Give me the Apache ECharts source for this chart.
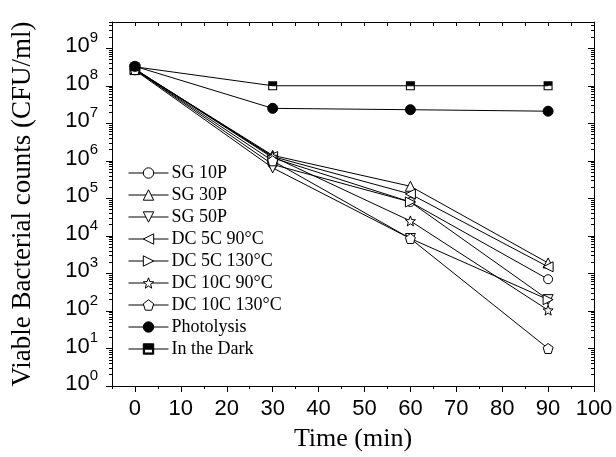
<!DOCTYPE html>
<html>
<head>
<meta charset="utf-8">
<script src="https://cdn.jsdelivr.net/npm/echarts@6/dist/echarts.min.js"></script>
<style>
html,body{margin:0;padding:0;background:#fff;}
#chart{width:616px;height:457px;}
</style>
</head>
<body>
<div id="chart"></div>
<script>
// ---- data ----
const times = [0, 30, 60, 90];
const seriesNames = ['SG 10P', 'SG 30P', 'SG 50P', 'DC 5C 90°C', 'DC 5C 130°C', 'DC 10C 90°C', 'DC 10C 130°C', 'Photolysis', 'In the Dark'];
const sg10P     = [2.7e8, 8.0e5, 8.0e4, 7.0e2];
const sg30P     = [2.7e8, 1.4e6, 2.1e5, 1.9e3];
const sg50P     = [2.6e8, 6.5e5, 8.5e3, 2.0e2];
const dc5c90    = [2.8e8, 1.3e6, 1.3e5, 1.5e3];
const dc5c130   = [2.8e8, 1.2e6, 8.0e4, 2.0e2];
const dc10c90   = [2.7e8, 1.3e6, 2.5e4, 1.05e2];
const dc10c130  = [2.7e8, 1.0e6, 8.5e3, 1.0e1];
const photolysis = [3.3e8, 2.5e7, 2.3e7, 2.1e7];
const inTheDark  = [3.2e8, 1.0e8, 1.0e8, 1.0e8];
const xTickLabels = [0, 10, 20, 30, 40, 50, 60, 70, 80, 90, 100];
const yMin = 1, yMax = 5e9;

// ---- styles ----
const SANS = "'Liberation Sans', Arial, sans-serif";
const SERIF = "'Liberation Serif', 'Times New Roman', serif";
const sym = {
  circle: 'circle',
  up: 'path://M5,0 L10,9 L0,9 Z',
  down: 'path://M0,0 L10,0 L5,9 Z',
  left: 'path://M0,5 L9,0 L9,10 Z',
  right: 'path://M0,0 L9,5 L0,10 Z',
  star: 'path://M0,-1 L0.25,-0.34 L0.951,-0.309 L0.40,0.13 L0.588,0.809 L0,0.42 L-0.588,0.809 L-0.40,0.13 L-0.951,-0.309 L-0.25,-0.34 Z',
  pentagon: 'path://M0,-1 L0.951,-0.309 L0.588,0.809 L-0.588,0.809 L-0.951,-0.309 Z',
  square: 'path://M0,0 L10,0 L10,10 L0,10 Z M1.2,5 L1.2,8.8 L8.8,8.8 L8.8,5 Z'
};
const allData = [sg10P, sg30P, sg50P, dc5c90, dc5c130, dc10c90, dc10c130, photolysis, inTheDark];
const symbols = [sym.circle, sym.up, sym.down, sym.left, sym.right, sym.star, sym.pentagon, 'circle', sym.square];
const sizes = [9, 10, 10, 10, 10, 10, 10, 10, 9];

const series = allData.map((vals, i) => {
  const filled = i >= 7;
  return {
    name: seriesNames[i],
    type: 'line',
    data: times.map((t, k) => [t, vals[k]]),
    symbol: symbols[i],
    symbolSize: sizes[i],
    showAllSymbol: true,
    lineStyle: { color: '#000', width: 1 },
    itemStyle: filled
      ? { color: '#000', borderColor: '#000', borderWidth: i === 8 ? 0 : 1 }
      : { color: '#fff', borderColor: '#000', borderWidth: 1 },
    emphasis: { disabled: true },
    z: 2 + i
  };
});

const minorLogs = [];
for (let n = 0; n <= 9; n++) {
  for (let k = 2; k <= 9; k++) {
    const v = Math.log10(k) + n;
    if (v <= Math.log10(yMax) + 1e-9) minorLogs.push(v);
  }
}
const yLogMax = Math.log10(yMax);

function yLabel(v) {
  const l = Math.log10(v);
  const e = Math.round(l);
  if (Math.abs(l - e) > 1e-6) return '';
  return '{b|10}{s|' + e + '}';
}

const chart = echarts.init(document.getElementById('chart'), null, { renderer: 'canvas' });
chart.setOption({
  animation: false,
  backgroundColor: '#fff',
  grid: { left: 112, top: 22, right: 22, bottom: 67, containLabel: false },
  legend: {
    orient: 'vertical',
    left: 128,
    top: 164,
    itemWidth: 40,
    itemHeight: 13,
    itemGap: 4,
    padding: 0,
    data: seriesNames,
    lineStyle: { width: 1, color: '#000' },
    itemStyle: { borderWidth: 1 },
    textStyle: { fontFamily: SERIF, fontSize: 18, lineHeight: 18, color: '#000', padding: [0, 0, 0, -2] }
  },
  xAxis: [
    {
      type: 'value', position: 'bottom', min: -5, max: 100, interval: 5,
      axisLine: { show: true, onZero: false, lineStyle: { color: '#000', width: 1 } },
      axisTick: { show: true, inside: false, length: 3, lineStyle: { color: '#000' } },
      axisLabel: { customValues: xTickLabels, fontFamily: SANS, fontSize: 22, color: '#000', margin: 12 },
      splitLine: { show: false },
      name: 'Time (min)', nameLocation: 'middle', nameGap: 40,
      nameTextStyle: { fontFamily: SERIF, fontSize: 26, color: '#000' }
    },
    {
      type: 'value', position: 'bottom', min: -5, max: 100, interval: 5,
      axisLine: { show: false, onZero: false },
      axisTick: { show: true, inside: false, length: 6, customValues: xTickLabels, lineStyle: { color: '#000' } },
      axisLabel: { show: false },
      splitLine: { show: false }
    },
    {
      type: 'value', position: 'top', min: -5, max: 100, interval: 5,
      axisLine: { show: true, onZero: false, lineStyle: { color: '#000', width: 1 } },
      axisTick: { show: true, inside: true, length: 4, lineStyle: { color: '#000' } },
      axisLabel: { show: false },
      splitLine: { show: false }
    }
  ],
  yAxis: [
    {
      type: 'log', logBase: 10, position: 'left', min: yMin, max: yMax, splitNumber: 10,
      axisLine: { show: true, onZero: false, lineStyle: { color: '#000', width: 1 } },
      axisTick: { show: true, inside: false, length: 6, lineStyle: { color: '#000' } },
      axisLabel: {
        formatter: yLabel, showMaxLabel: false, margin: 14, color: '#000',
        padding: [0, 0, 4, 0],
        rich: {
          b: { fontFamily: SANS, fontSize: 22, lineHeight: 22, color: '#000', verticalAlign: 'bottom' },
          s: { fontFamily: SANS, fontSize: 15, lineHeight: 15, color: '#000', verticalAlign: 'bottom', padding: [0, 0, 12, 0] }
        }
      },
      splitLine: { show: false },
      name: 'Viable Bacterial counts (CFU/ml)', nameLocation: 'middle', nameGap: 76,
      nameTextStyle: { fontFamily: SERIF, fontSize: 27, color: '#000' }
    },
    {
      type: 'value', position: 'left', min: 0, max: yLogMax,
      axisLine: { show: false, onZero: false },
      axisTick: { show: true, inside: false, length: 3, customValues: minorLogs, lineStyle: { color: '#000' } },
      axisLabel: { show: false },
      splitLine: { show: false }
    },
    {
      type: 'log', logBase: 10, position: 'right', min: yMin, max: yMax, splitNumber: 10,
      axisLine: { show: true, onZero: false, lineStyle: { color: '#000', width: 1 } },
      axisTick: { show: true, inside: true, length: 6, lineStyle: { color: '#000' } },
      axisLabel: { show: false },
      splitLine: { show: false }
    },
    {
      type: 'value', position: 'right', min: 0, max: yLogMax,
      axisLine: { show: false, onZero: false },
      axisTick: { show: true, inside: true, length: 3, customValues: minorLogs, lineStyle: { color: '#000' } },
      axisLabel: { show: false },
      splitLine: { show: false }
    }
  ],
  series: series
});
</script>
</body>
</html>
